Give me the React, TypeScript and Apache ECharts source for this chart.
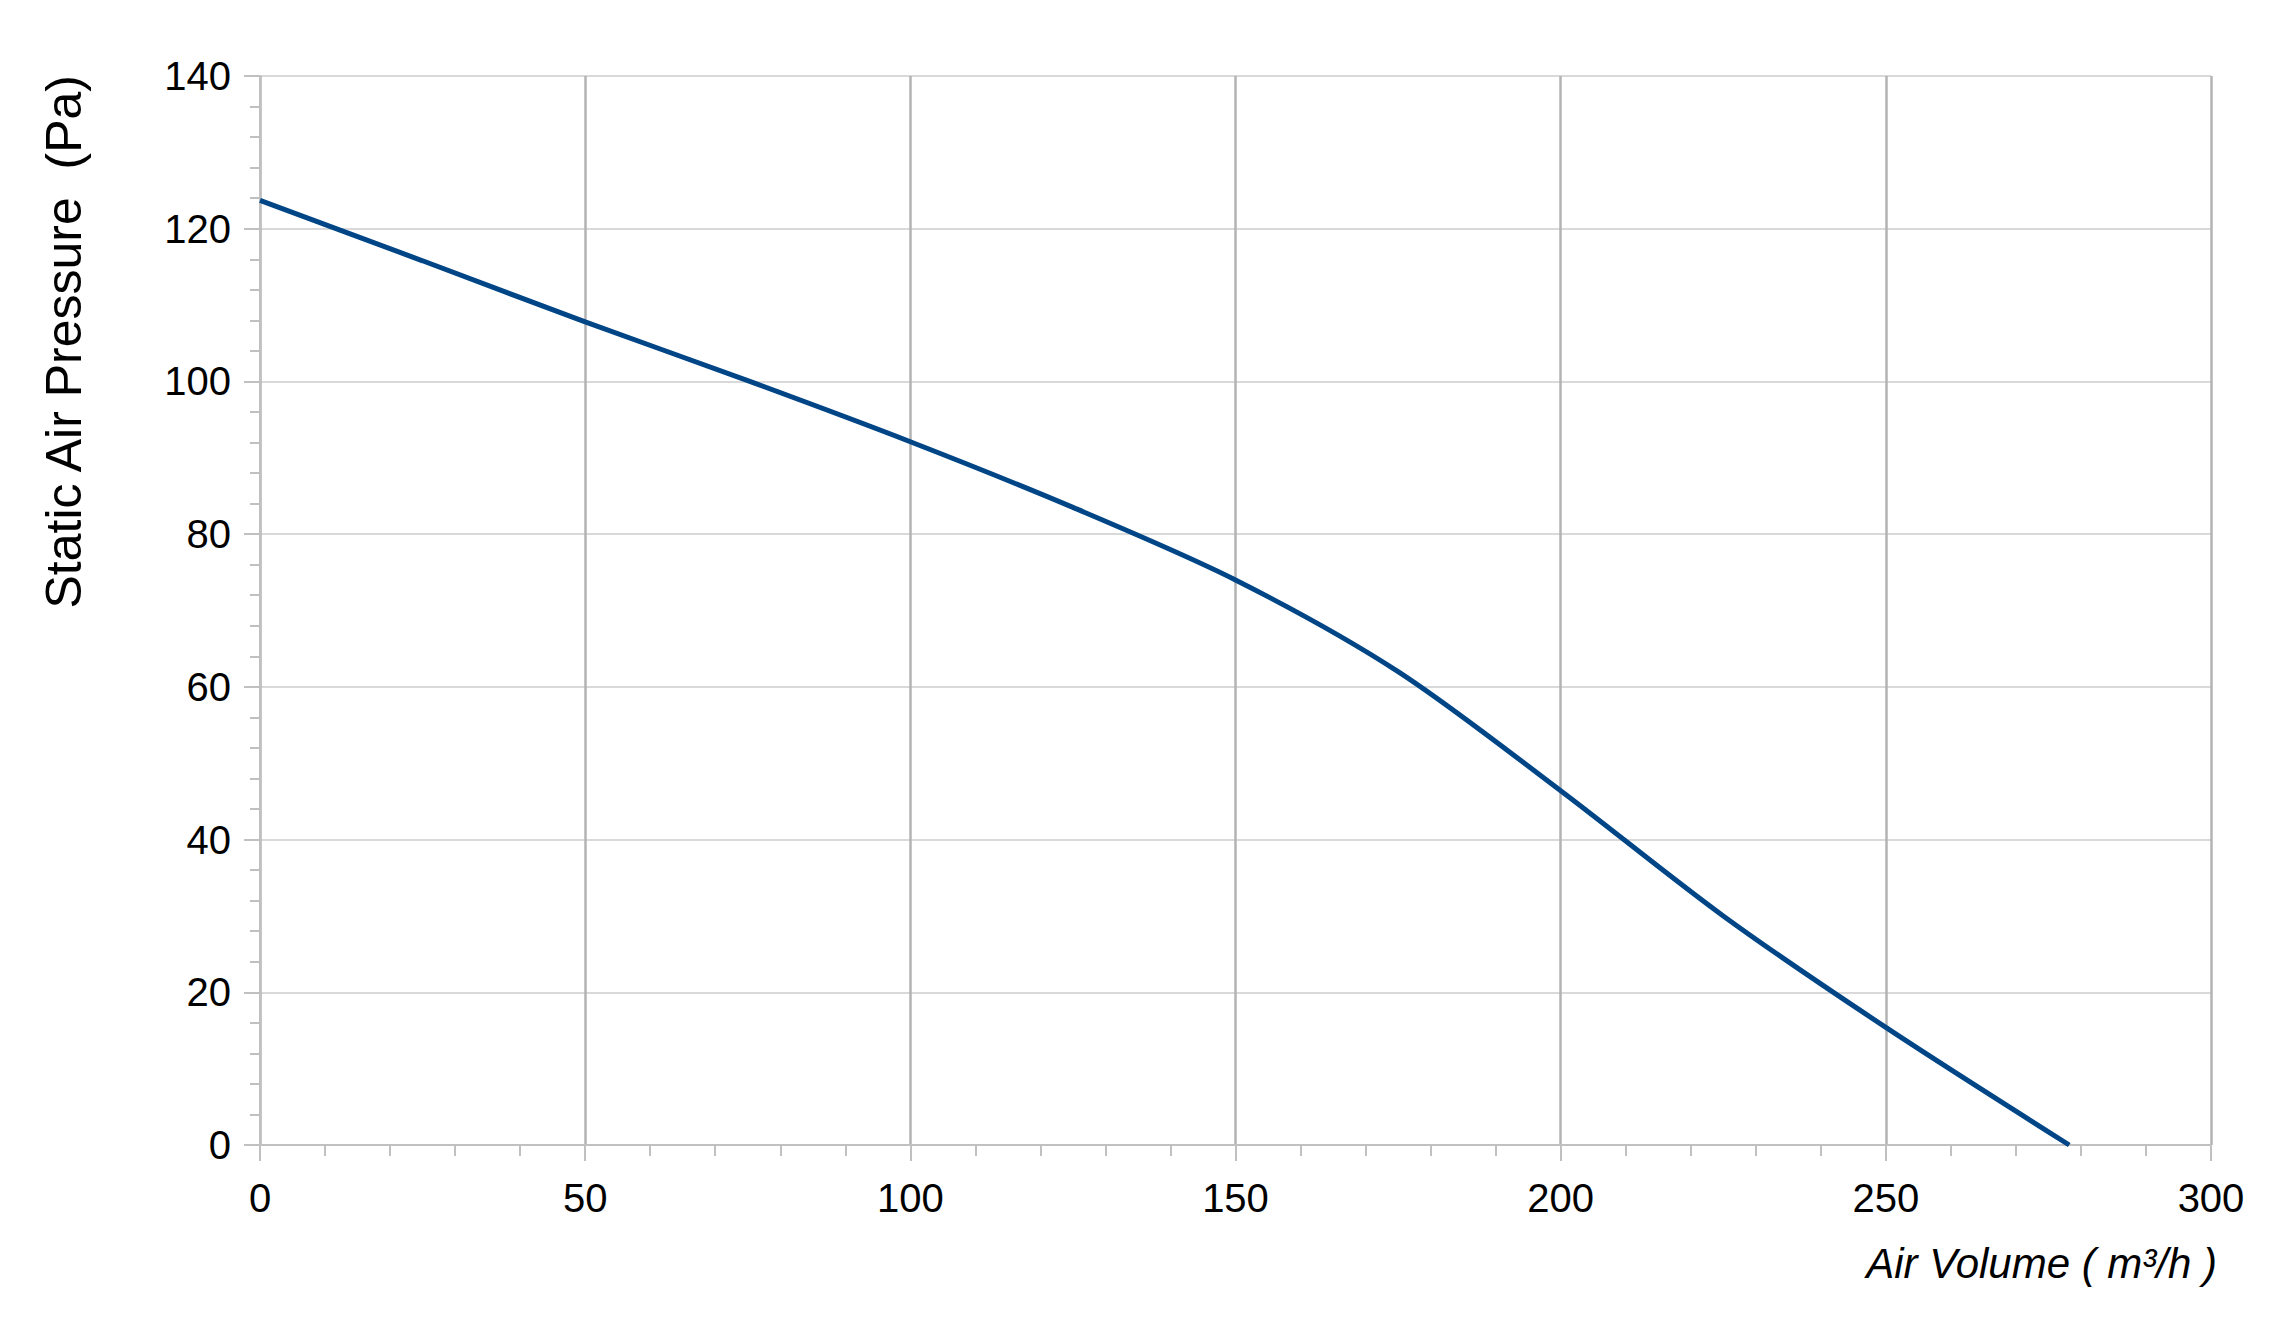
import React, { useEffect, useRef } from "react";
import * as echarts from "echarts";

const airVolume = [0, 25, 50, 75, 100, 125, 150, 175, 200, 225, 250, 278.2];
const staticPressure = [123.7, 115.8, 107.8, 100.1, 92.1, 83.5, 74.0, 62.0, 46.4, 30.0, 15.4, 0];
const xTitle = "Air Volume ( m³/h )";
const yTitle = "Static Air Pressure  (Pa)";

const FONT = "'Liberation Sans', Arial, sans-serif";

export default function App() {
  const ref = useRef<HTMLDivElement>(null);
  useEffect(() => {
    if (!ref.current) return;
    const chart = echarts.init(ref.current, null, { renderer: "svg" });
    const data = airVolume.map((x, i) => [x, staticPressure[i]]);
    chart.setOption({
      animation: false,
      backgroundColor: "#ffffff",
      textStyle: { fontFamily: FONT },
      grid: { left: 260, right: 58, top: 76, bottom: 188, containLabel: false },
      xAxis: {
        type: "value",
        min: 0,
        max: 300,
        interval: 50,
        axisLine: { show: true, lineStyle: { color: "#c0c0c0", width: 2 } },
        axisTick: { show: true, length: 16, lineStyle: { color: "#c0c0c0", width: 2 } },
        minorTick: { show: true, splitNumber: 5, length: 11, lineStyle: { color: "#c0c0c0", width: 2 } },
        splitLine: { show: true, lineStyle: { color: "#b3b3b3", width: 2.5 } },
        axisLabel: { fontSize: 40, color: "#000000", margin: 33, fontFamily: FONT },
      },
      yAxis: {
        type: "value",
        min: 0,
        max: 140,
        interval: 20,
        axisLine: { show: true, lineStyle: { color: "#c0c0c0", width: 2 } },
        axisTick: { show: true, length: 16, lineStyle: { color: "#c0c0c0", width: 2 } },
        minorTick: { show: true, splitNumber: 5, length: 10, lineStyle: { color: "#c0c0c0", width: 2 } },
        splitLine: { show: true, lineStyle: { color: "#d9d9d9", width: 2 } },
        axisLabel: { fontSize: 40, color: "#000000", margin: 29, fontFamily: FONT },
      },
      series: [
        {
          type: "line",
          data,
          smooth: 0.3,
          showSymbol: false,
          lineStyle: { color: "#004586", width: 5 },
          itemStyle: { color: "#004586" },
          z: 5,
        },
      ],
      graphic: [
        {
          type: "text",
          x: 64,
          y: 75,
          rotation: Math.PI / 2,
          style: {
            text: yTitle,
            fontSize: 50,
            fontFamily: FONT,
            fill: "#000000",
            textAlign: "right",
            textVerticalAlign: "middle",
          },
        },
        {
          type: "text",
          x: 2217,
          y: 1263,
          style: {
            text: xTitle,
            fontSize: 42,
            fontStyle: "italic",
            fontFamily: FONT,
            fill: "#000000",
            textAlign: "right",
            textVerticalAlign: "middle",
          },
        },
      ],
    });
    return () => chart.dispose();
  }, []);
  return (
    <div
      ref={ref}
      style={{ position: "fixed", left: 0, top: 0, width: 2269, height: 1333, background: "#ffffff" }}
    />
  );
}
